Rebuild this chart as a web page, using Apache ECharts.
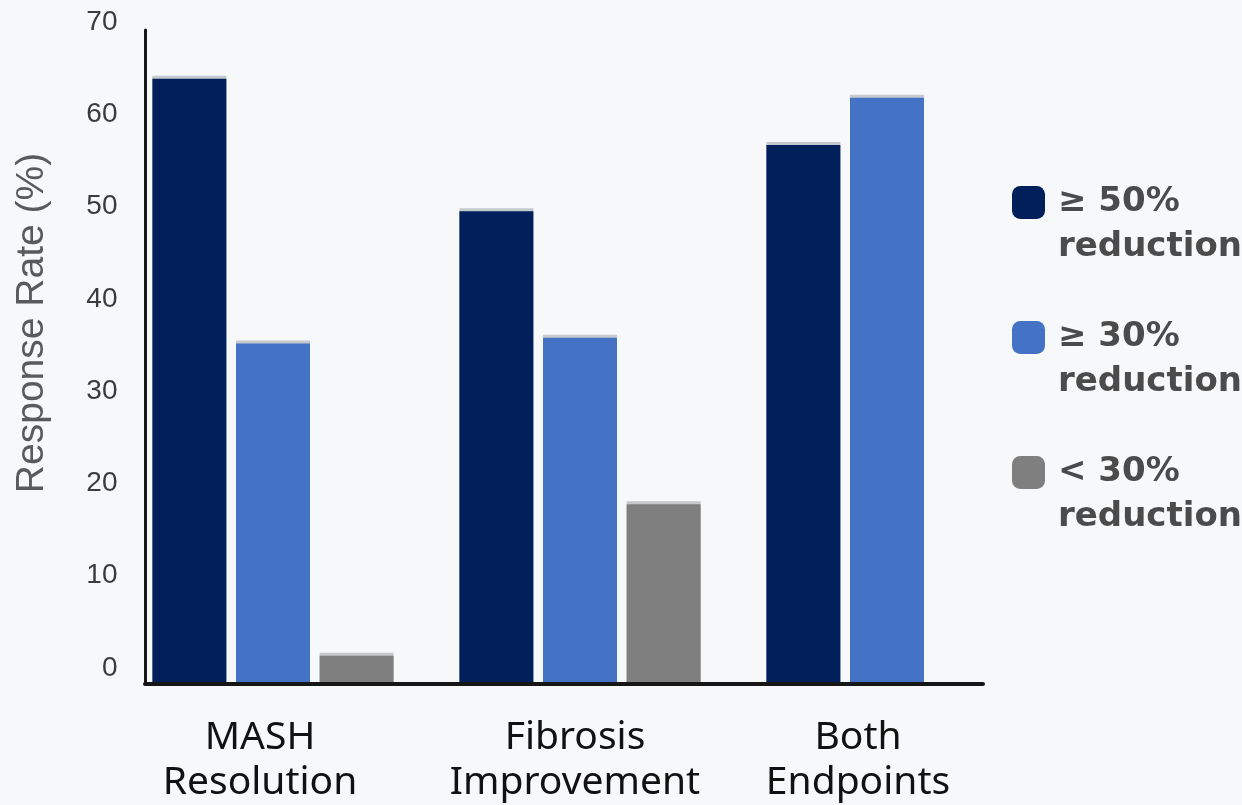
<!DOCTYPE html>
<html>
<head>
<meta charset="utf-8">
<script src="https://cdn.jsdelivr.net/npm/echarts@6/dist/echarts.min.js"></script>
<style>
  html, body { margin: 0; padding: 0; background: #f7f8fa; }
  #main { width: 1242px; height: 805px; }
</style>
</head>
<body>
<div id="main"></div>
<script>
// response rates by endpoint
var categories = ['MASH\nResolution', 'Fibrosis\nImprovement', 'Both\nEndpoints'];
var seriesNames = ['≥ 50%\nreduction', '≥ 30%\nreduction', '< 30%\nreduction'];
var reduction50 = [64, 50, 57];
var reduction30 = [36, 36.6, 62];
var reductionLess30 = [3, 19, null];
var yTicks = [0, 10, 20, 30, 40, 50, 60, 70];

var dom = document.getElementById('main');
var myChart = echarts.init(dom);

// small horizontal nudges for the category labels
var labelShift = [26, 10, 58];

function barSeries(name, data, color) {
    return {
        name: name,
        type: 'bar',
        data: data,
        barWidth: 74,
        barGap: '13%',
        itemStyle: {
            color: color,
            // thin grey cap on top of each bar
            shadowColor: 'rgba(190,195,200,0.9)',
            shadowOffsetY: -3,
            shadowBlur: 0
        }
    };
}

function catRich(shift) {
    return {
        fontFamily: 'Noto Sans', fontSize: 39, lineHeight: 45, color: '#111',
        padding: [0, shift, 0, 0]
    };
}

var option = {
    backgroundColor: '#f7f8fa',
    textStyle: { fontFamily: 'Liberation Sans, Arial, sans-serif' },
    legend: {
        orient: 'vertical',
        left: 1007,
        top: 130,
        itemWidth: 33,
        itemHeight: 33,
        itemGap: 0,
        icon: 'roundRect',
        itemStyle: { borderWidth: 0, shadowColor: 'transparent' },
        // leading blank line keeps the icon level with the first line
        formatter: function (name) { return '\n' + name; },
        textStyle: {
            fontFamily: 'DejaVu Sans',
            fontWeight: 'bold',
            fontSize: 34,
            lineHeight: 45,
            color: '#4b4b4b',
            padding: [0, 0, 0, 8]
        },
        data: seriesNames
    },
    grid: [
        { left: 119.5, right: 201.5, top: 22, bottom: 121 },
        { left: 145, right: 259, top: 30, bottom: 121 },
        { left: 119.5, right: 201.5, top: 22, bottom: 137 }
    ],
    xAxis: [
        {
            type: 'category',
            gridIndex: 0,
            data: categories,
            axisLine: { show: false },
            axisTick: { show: false },
            axisLabel: {
                margin: 31,
                interval: 0,
                formatter: function (value, idx) {
                    return value.split('\n').map(function (s) {
                        return '{c' + idx + '|' + s + '}';
                    }).join('\n');
                },
                rich: {
                    c0: catRich(labelShift[0]),
                    c1: catRich(labelShift[1]),
                    c2: catRich(labelShift[2])
                }
            }
        },
        {
            type: 'value',
            gridIndex: 1,
            z: 10,
            axisLine: { show: true, lineStyle: { color: '#161616', width: 4 } },
            axisTick: { show: false },
            axisLabel: { show: false },
            splitLine: { show: false }
        },
        {
            type: 'value',
            gridIndex: 2,
            show: false
        }
    ],
    yAxis: [
        {
            type: 'value',
            gridIndex: 0,
            min: yTicks[0],
            max: yTicks[yTicks.length - 1],
            interval: 10,
            name: 'Response Rate (%)',
            nameLocation: 'middle',
            nameGap: 68,
            nameTextStyle: {
                fontSize: 39,
                color: '#5a5a5a',
                padding: [0, 0, 0, 60]
            },
            axisLine: { show: false },
            axisTick: { show: false },
            splitLine: { show: false },
            axisLabel: { show: false }
        },
        {
            type: 'value',
            gridIndex: 1,
            z: 10,
            axisLine: { show: true, lineStyle: { color: '#161616', width: 3 } },
            axisTick: { show: false },
            axisLabel: { show: false },
            splitLine: { show: false }
        },
        {
            // tick labels sit on a slightly tighter scale in the original
            type: 'value',
            gridIndex: 2,
            min: yTicks[0],
            max: yTicks[yTicks.length - 1],
            interval: 10,
            axisLine: { show: false },
            axisTick: { show: false },
            splitLine: { show: false },
            axisLabel: { fontSize: 28, color: '#3c3c3c', margin: 2 }
        }
    ],
    series: [
        barSeries(seriesNames[0], reduction50, '#001f5b'),
        barSeries(seriesNames[1], reduction30, '#4472c4'),
        barSeries(seriesNames[2], reductionLess30, '#7f7f7f')
    ]
};

if (option && typeof option === 'object') {
    myChart.setOption(option);
}
</script>
</body>
</html>
